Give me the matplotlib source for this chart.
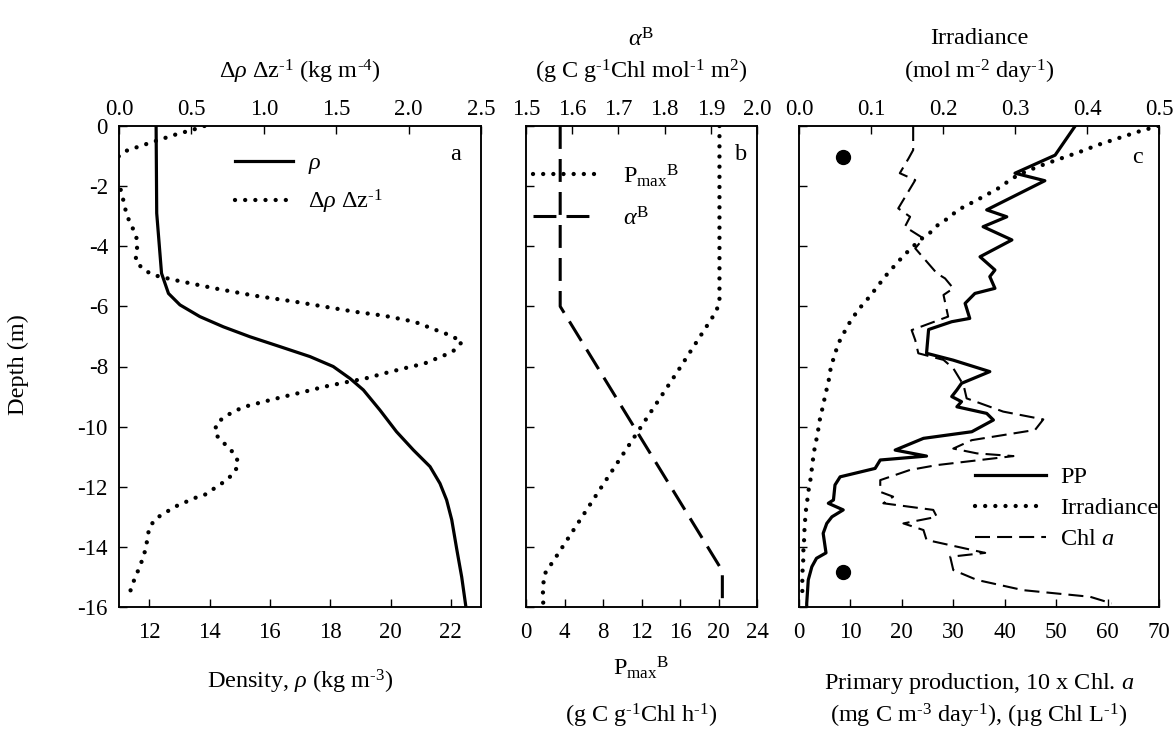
import matplotlib
matplotlib.use('Agg')
import matplotlib.pyplot as plt
import numpy as np

plt.rcParams.update({
    'font.family': ['Liberation Serif', 'DejaVu Serif'],
    'mathtext.fontset': 'custom',
    'mathtext.rm': 'Liberation Serif',
    'mathtext.it': 'Liberation Serif:italic',
    'mathtext.bf': 'Liberation Serif:bold',
    'axes.unicode_minus': False,
    'font.size': 17,
    'axes.linewidth': 1.1,
})

# panel a: density and its gradient
rho_depth = [0, -2.9, -4.9, -5.57, -5.95, -6.34, -6.68, -7.01, -7.34, -7.67, -8.0, -8.4,
             -8.78, -9.45, -10.17, -10.78, -11.33, -11.89, -12.44, -13.1, -14.1, -15.0, -16.0]
rho = [12.23, 12.25, 12.41, 12.64, 13.02, 13.68, 14.46, 15.34, 16.34, 17.33, 18.1, 18.66,
       19.1, 19.65, 20.2, 20.76, 21.31, 21.64, 21.86, 22.03, 22.2, 22.36, 22.5]

grad_depth = [0, -0.11, -0.3, -0.41, -0.63, -0.85, -1.0, -1.3, -1.6, -1.9, -2.24, -2.57, -2.9,
              -3.2, -3.55, -3.88, -4.2, -4.5, -4.79, -4.96, -5.12, -5.4, -5.64, -5.84, -6.01,
              -6.18, -6.31, -6.51, -6.77, -6.95, -7.17, -7.45, -7.62, -7.9, -8.06, -8.23, -8.4,
              -8.53, -8.67, -8.84, -9.0, -9.17, -9.34, -9.48, -9.67, -9.91, -10.25, -10.56,
              -10.87, -11.19, -11.52, -11.81, -12.03, -12.25, -12.37, -12.66, -13.07, -13.38,
              -14.05, -14.36, -14.7, -15.03, -15.36, -15.69]
grad = [0.59, 0.52, 0.38, 0.31, 0.17, 0.035, 0.0, -0.06, -0.06, 0.0, 0.018, 0.035, 0.05,
        0.074, 0.11, 0.13, 0.12, 0.115, 0.173, 0.24, 0.38, 0.66, 0.93, 1.21, 1.42,
        1.63, 1.83, 2.04, 2.18, 2.28, 2.37, 2.32, 2.25, 2.11, 1.97, 1.83, 1.70,
        1.56, 1.42, 1.28, 1.14, 1.0, 0.866, 0.80, 0.73, 0.67, 0.665, 0.727,
        0.79, 0.826, 0.80, 0.734, 0.665, 0.6, 0.526, 0.388, 0.25, 0.208,
        0.185, 0.166, 0.14, 0.11, 0.085, 0.065]

# panel b: photosynthetic parameters
pmax_depth = [0, -5.85, -6.18, -8.14, -10.06, -12.0, -14.27, -14.92, -15.25, -15.5, -16.0]
pmax = [20.1, 20.1, 19.74, 15.8, 11.84, 7.86, 3.25, 1.9, 1.8, 1.76, 1.8]
alpha_depth = [0, -6.0, -14.8, -16.0]
alpha_b = [1.574, 1.574, 1.925, 1.925]

# panel c: primary production, irradiance, chlorophyll
pp_depth = [0, -0.97, -1.57, -1.82, -2.79, -3.02, -3.35, -3.79, -4.35, -4.79, -5.01, -5.4,
            -5.57, -5.9, -6.4, -6.51, -6.77, -7.56, -7.79, -8.17, -8.56, -8.78, -9.0, -9.17,
            -9.34, -9.56, -9.78, -10.17, -10.39, -10.78, -10.98, -11.11, -11.39, -11.67,
            -11.94, -12.44, -12.55, -12.77, -13.0, -13.22, -13.55, -14.2, -14.38, -14.66,
            -15.1, -15.88, -16.0]
pp = [53.7, 49.8, 42.0, 47.8, 36.5, 40.4, 35.8, 41.4, 35.2, 38.1, 37.1, 38.1,
      34.2, 32.3, 33.2, 29.7, 25.2, 24.8, 30.0, 37.1, 31.6, 30.7, 29.7, 31.6,
      30.7, 36.5, 37.8, 33.6, 24.2, 18.7, 24.8, 15.8, 14.8, 8.0,
      7.0, 6.7, 5.7, 8.6, 6.4, 5.4, 4.7, 5.25, 3.4, 2.5,
      1.8, 1.5, 1.5]

chl_depth = [0, -0.8, -1.08, -1.57, -1.8, -2.74, -3.02, -3.35, -3.74, -4.07, -4.9, -5.07,
             -5.4, -5.62, -6.34, -6.79, -7.12, -7.56, -7.78, -8.06, -8.62, -9.06, -9.5,
             -9.76, -10.11, -10.45, -10.73, -10.89, -10.98, -11.28, -11.44, -11.78, -12.17,
             -12.33, -12.55, -12.77, -13.0, -13.22, -13.44, -13.77, -14.2, -14.33, -14.77,
             -15.1, -15.44, -15.66, -15.88]
chl = [22.2, 22.2, 21.3, 19.6, 22.6, 19.3, 21.6, 20.6, 24.2, 22.6, 26.8, 28.4,
       30.0, 28.1, 29.0, 21.9, 22.6, 23.2, 28.1, 30.0, 32.0, 32.6, 39.7,
       47.5, 45.9, 33.6, 30.0, 34.6, 41.7, 26.8, 21.6, 15.8, 15.8,
       18.3, 16.4, 26.1, 26.8, 20.3, 24.2, 24.8, 36.2, 29.4, 30.0,
       34.6, 43.6, 56.6, 60.8]

irr_depth = [0, -0.19, -0.41, -0.63, -0.88, -1.11, -1.35, -1.63, -1.85, -2.07, -2.44, -2.79,
             -3.07, -3.29, -3.55, -3.79, -4.04, -4.32, -4.59, -4.85, -5.12, -5.4, -5.68,
             -5.95, -6.23, -6.51, -6.81, -7.12, -7.43, -7.73, -8.06, -8.5, -8.8, -9.12,
             -9.45, -9.76, -10.06, -10.34, -10.67, -11.0, -11.33, -11.64, -11.94, -12.27,
             -12.6, -12.9, -13.2, -13.5, -13.8, -14.15, -14.4, -14.76, -15.0, -15.35, -15.6]
irr = [0.499, 0.471, 0.443, 0.415, 0.388, 0.36, 0.332, 0.304, 0.29, 0.277, 0.249, 0.221,
       0.207, 0.193, 0.182, 0.168, 0.157, 0.145, 0.135, 0.125, 0.116, 0.107, 0.098,
       0.088, 0.079, 0.071, 0.064, 0.057, 0.052, 0.048, 0.044, 0.041, 0.038, 0.035,
       0.032, 0.029, 0.027, 0.025, 0.022, 0.020, 0.018, 0.017, 0.0143, 0.0125,
       0.0107, 0.009, 0.0083, 0.0074, 0.007, 0.006, 0.006, 0.005, 0.0046, 0.0046, 0.0046]

dot_x = [8.6, 8.6]
dot_depth = [-1.03, -14.84]

DOT = dict(color='k', lw=3.1, linestyle=(0, (0.01, 2.35)), dash_capstyle='round')
HY = '\u2010'  # short hyphen used in the superscripts

fig = plt.figure(figsize=(11.74, 7.29), dpi=100)
W, H = 1174.0, 729.0
bot, hgt = 1 - 607 / H, (607 - 126) / H
ax_a = fig.add_axes([119 / W, bot, 362 / W, hgt])
ax_b = fig.add_axes([526 / W, bot, 231 / W, hgt])
ax_c = fig.add_axes([799 / W, bot, 360 / W, hgt])

# ---- panel a
ax_a.plot(rho, rho_depth, color='k', lw=2.3, label=r'$\rho$')
ax_a.set_xlim(11, 23)
ax_a.set_xticks(np.arange(12, 23, 2))
top_a = ax_a.twiny()
top_a.plot(grad, grad_depth, **DOT)
top_a.set_xlim(0, 2.5)
top_a.set_xticks(np.arange(0, 2.51, 0.5))
top_a.xaxis.set_major_formatter('{x:.1f}')
h1, l1 = ax_a.get_legend_handles_labels()
h2 = top_a.get_lines()
top_a.legend(h1 + h2, [r'$\rho$', r'Δ$\rho$ Δz$^{' + HY + '1}$'], loc='upper left',
             bbox_to_anchor=(0.32, 0.945), frameon=False, borderpad=0, borderaxespad=0,
             handlelength=2.4, handletextpad=0.6, labelspacing=0.48, fontsize=17.5)
top_a.text(0.93, 0.94, 'a', transform=top_a.transAxes, ha='center', va='center', fontsize=17.5)

# ---- panel b
ax_b.plot(pmax, pmax_depth, label=r'P$_{\rm max}$$^{\rm B}$', **DOT)
ax_b.set_xlim(0, 24)
ax_b.set_xticks(np.arange(0, 25, 4))
top_b = ax_b.twiny()
top_b.plot(alpha_b, alpha_depth, color='k', lw=2.2, linestyle=(0, (7.5, 3.3)),
           label=r'$\alpha^{\rm B}$')
top_b.set_xlim(1.5, 2.0)
top_b.set_xticks(np.arange(1.5, 2.01, 0.1))
top_b.xaxis.set_major_formatter('{x:.1f}')
h1, l1 = ax_b.get_legend_handles_labels()
h2, l2 = top_b.get_legend_handles_labels()
top_b.legend(h1 + h2, l1 + l2, loc='upper left', bbox_to_anchor=(0.03, 0.925),
             frameon=False, borderpad=0, borderaxespad=0, handlelength=2.7,
             handletextpad=1.0, labelspacing=0.75, fontsize=17.5)
top_b.text(0.93, 0.94, 'b', transform=top_b.transAxes, ha='center', va='center', fontsize=17.5)

# ---- panel c
ax_c.plot(pp, pp_depth, color='k', lw=2.3, label='PP')
ax_c.plot(chl, chl_depth, color='k', lw=1.5, linestyle=(0, (7.2, 3.4)), label='Chl $a$')
ax_c.plot(dot_x, dot_depth, 'o', color='k', ms=10, ls='none')
ax_c.set_xlim(0, 70)
ax_c.set_xticks(np.arange(0, 71, 10))
top_c = ax_c.twiny()
top_c.plot(irr, irr_depth, label='Irradiance', **DOT)
top_c.set_xlim(0, 0.5)
top_c.set_xticks(np.arange(0, 0.51, 0.1))
top_c.xaxis.set_major_formatter('{x:.1f}')
h1, l1 = ax_c.get_legend_handles_labels()
h2, l2 = top_c.get_legend_handles_labels()
top_c.legend([h1[0], h2[0], h1[1]], [l1[0], l2[0], l1[1]], loc='upper left',
             bbox_to_anchor=(0.489, 0.293), frameon=False, borderpad=0, borderaxespad=0,
             handlelength=2.9, handletextpad=0.6, labelspacing=0.37, fontsize=17.5)
top_c.text(0.94, 0.935, 'c', transform=top_c.transAxes, ha='center', va='center', fontsize=17.5)

for ax in (ax_a, ax_b, ax_c):
    ax.set_ylim(-16, 0)
    ax.set_yticks(np.arange(-16, 1, 2))
    ax.tick_params(axis='x', direction='in', length=6, width=1.0, pad=11, labelsize=16.5)
    ax.tick_params(axis='y', direction='in', length=6, width=1.0, pad=8, labelsize=16.5)
for ax in (ax_b, ax_c):
    ax.tick_params(axis='y', labelleft=False)
for ax in (top_a, top_b, top_c):
    ax.tick_params(axis='x', direction='in', length=6, width=1.0, pad=4, labelsize=16.5)

fs = 17.5
fig.text(300 / W, 1 - 72 / H, r'Δ$\rho$ Δz$^{' + HY + r'1}$ (kg m$^{' + HY + '4}$)',
         ha='center', va='center', fontsize=fs)
fig.text(641 / W, 1 - 40 / H, r'$\alpha^{\rm B}$', ha='center', va='center', fontsize=fs)
fig.text(641 / W, 1 - 72 / H, r'(g C g$^{' + HY + r'1}$Chl mol$^{' + HY + r'1}$ m$^2$)',
         ha='center', va='center', fontsize=fs)
fig.text(979 / W, 1 - 38 / H, 'Irradiance', ha='center', va='center', fontsize=fs)
fig.text(979 / W, 1 - 72 / H, r'(mol m$^{' + HY + r'2}$ day$^{' + HY + '1}$)',
         ha='center', va='center', fontsize=fs)
fig.text(300 / W, 1 - 682 / H, r'Density, $\rho$ (kg m$^{' + HY + '3}$)',
         ha='center', va='center', fontsize=fs)
fig.text(641 / W, 1 - 668 / H, r'P$_{\rm max}$$^{\rm B}$', ha='center', va='center', fontsize=fs)
fig.text(641 / W, 1 - 716 / H, r'(g C g$^{' + HY + r'1}$Chl h$^{' + HY + '1}$)',
         ha='center', va='center', fontsize=fs)
fig.text(979 / W, 1 - 683 / H, r'Primary production, 10 x Chl. $a$', ha='center', va='center', fontsize=fs)
fig.text(979 / W, 1 - 716 / H,
         r'(mg C m$^{' + HY + r'3}$ day$^{' + HY + r'1}$), (µg Chl L$^{' + HY + '1}$)',
         ha='center', va='center', fontsize=fs)
fig.text(18 / W, 1 - 365 / H, 'Depth (m)', rotation=90, ha='center', va='center', fontsize=fs)

fig.savefig('out.png', dpi=100)
